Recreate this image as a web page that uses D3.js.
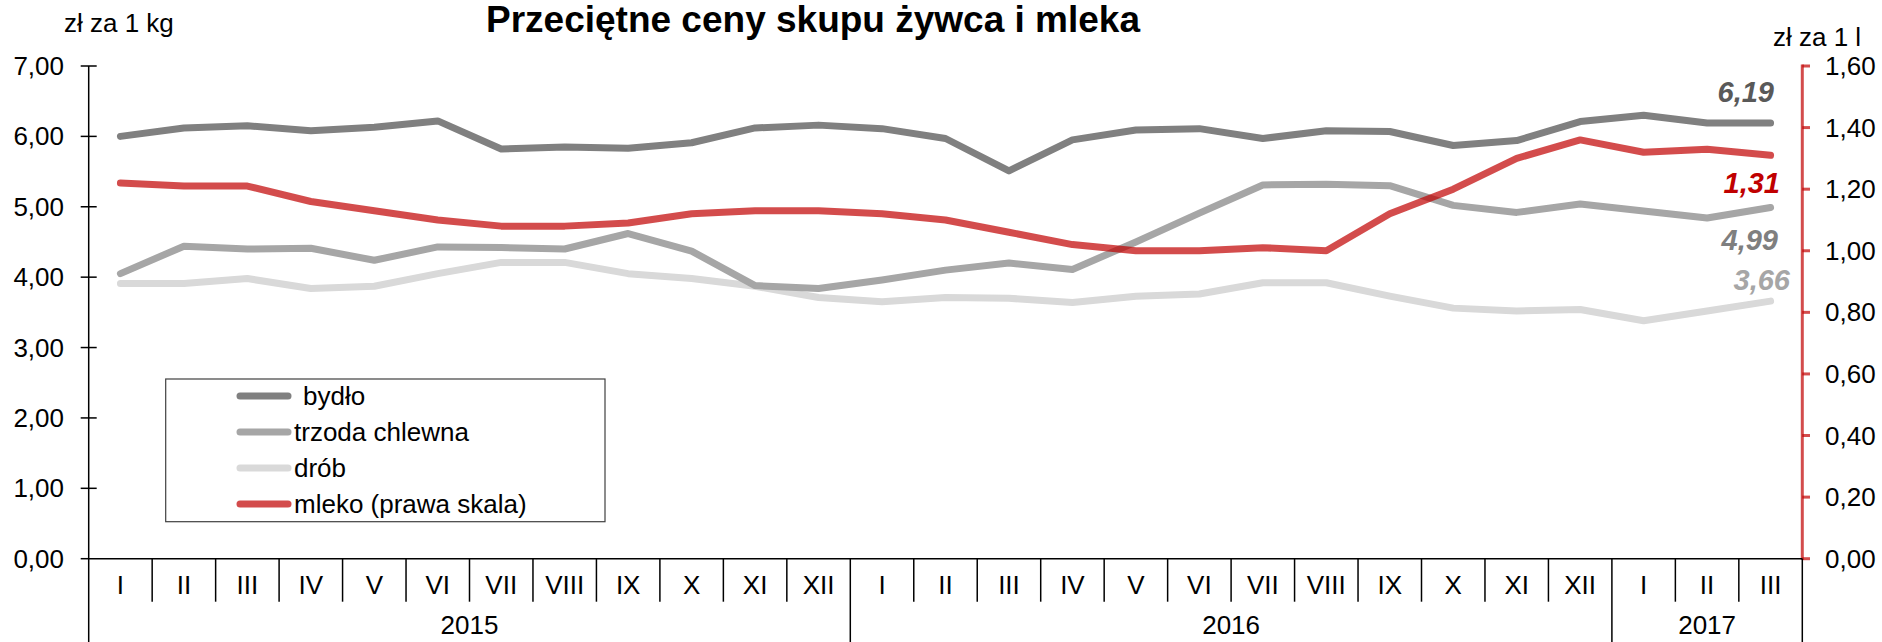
<!DOCTYPE html>
<html>
<head>
<meta charset="utf-8">
<script src="https://cdn.jsdelivr.net/npm/d3@7"></script>
<style>
body { margin: 0; background: #fff; }
text { font-family: "Liberation Sans", Arial, sans-serif; }
</style>
</head>
<body>
<script>
var w = 1882, h = 642;

// dane
var months = ["I","II","III","IV","V","VI","VII","VIII","IX","X","XI","XII",
              "I","II","III","IV","V","VI","VII","VIII","IX","X","XI","XII",
              "I","II","III"];
var years = [{label: "2015", from: 0, to: 12}, {label: "2016", from: 12, to: 24}, {label: "2017", from: 24, to: 27}];
var bydlo  = [6.00,6.12,6.15,6.08,6.13,6.22,5.82,5.85,5.83,5.91,6.12,6.16,
              6.11,5.97,5.51,5.95,6.09,6.11,5.97,6.08,6.07,5.87,5.94,6.21,6.30,6.19,6.19];
var trzoda = [4.05,4.44,4.40,4.41,4.24,4.43,4.42,4.40,4.62,4.37,3.88,3.84,
              3.96,4.10,4.20,4.11,4.50,4.91,5.31,5.32,5.30,5.02,4.92,5.04,4.94,4.84,4.99];
var drob   = [3.91,3.91,3.98,3.84,3.87,4.05,4.21,4.21,4.05,3.98,3.87,3.71,
              3.65,3.71,3.70,3.64,3.73,3.76,3.92,3.92,3.73,3.56,3.52,3.54,3.38,3.52,3.66];
var mleko  = [1.22,1.21,1.21,1.16,1.13,1.10,1.08,1.08,1.09,1.12,1.13,1.13,
              1.12,1.10,1.06,1.02,1.00,1.00,1.01,1.00,1.12,1.20,1.30,1.36,1.32,1.33,1.31];
var seriesNames = ["bydło", "trzoda chlewna", "drób", "mleko (prawa skala)"];
var leftTicks = [0,1,2,3,4,5,6,7];
var rightTicks = [0,0.2,0.4,0.6,0.8,1.0,1.2,1.4,1.6];

var fmt = function(v){ return d3.format(".2f")(v).replace(".", ","); };
var red = "rgba(192,0,0,0.7)";

var svg = d3.select("body").append("svg")
	.attr("width", w)
	.attr("height", h);

var x = d3.scaleBand().domain(d3.range(months.length)).range([88.7, 1802.3]).paddingInner(0).paddingOuter(0);
var bw = x.bandwidth();
var cx = function(i){ return x(i) + bw/2; };
var yL = d3.scaleLinear().domain([0,7]).range([558.7, 66]);
var yR = d3.scaleLinear().domain([0,1.6]).range([558.7, 66]);

// tytul
svg.append("text")
	.attr("x", 813).attr("y", 32)
	.attr("text-anchor", "middle")
	.style("font-size", "37px").style("font-weight", "bold")
	.text("Przeciętne ceny skupu żywca i mleka");

svg.append("text").attr("x", 64).attr("y", 32)
	.style("font-size", "26px").text("zł za 1 kg");
svg.append("text").attr("x", 1773).attr("y", 46)
	.style("font-size", "26px").text("zł za 1 l");

// os lewa
var gL = svg.append("g");
gL.append("line").attr("x1", 88.7).attr("x2", 88.7).attr("y1", 66).attr("y2", h)
	.attr("stroke", "#000").attr("stroke-width", 1.5);
gL.selectAll("line.t").data(leftTicks).enter().append("line").attr("class","t")
	.attr("x1", 80.7).attr("x2", function(d){ return d === 0 ? 88.7 : 96.7; })
	.attr("y1", yL).attr("y2", yL)
	.attr("stroke", "#000").attr("stroke-width", 1.5);
gL.selectAll("text").data(leftTicks).enter().append("text")
	.attr("x", 64).attr("y", yL).attr("dy", "0.35em")
	.attr("text-anchor", "end").style("font-size", "26px")
	.text(fmt);

// os prawa
var gR = svg.append("g");
gR.append("line").attr("x1", 1802.3).attr("x2", 1802.3).attr("y1", 64.5).attr("y2", 560)
	.attr("stroke", red).attr("stroke-width", 3);
gR.selectAll("line.t").data(rightTicks).enter().append("line").attr("class","t")
	.attr("x1", 1802.3).attr("x2", 1810).attr("y1", yR).attr("y2", yR)
	.attr("stroke", red).attr("stroke-width", 3);
gR.selectAll("text").data(rightTicks).enter().append("text")
	.attr("x", 1825).attr("y", yR).attr("dy", "0.35em")
	.style("font-size", "26px")
	.text(fmt);
svg.append("line").attr("x1", 1802.3).attr("x2", 1802.3).attr("y1", 558.7).attr("y2", h)
	.attr("stroke", "#000").attr("stroke-width", 1.5);

// os x
var gX = svg.append("g");
gX.append("line").attr("x1", 88.7).attr("x2", 1802.3).attr("y1", 558.7).attr("y2", 558.7)
	.attr("stroke", "#000").attr("stroke-width", 1.5);
gX.selectAll("line.m").data(d3.range(1, months.length)).enter().append("line").attr("class","m")
	.attr("x1", x).attr("x2", x)
	.attr("y1", 558.7)
	.attr("y2", function(i){ return (i % 12 === 0) ? h : 601.7; })
	.attr("stroke", "#000").attr("stroke-width", 1.5);
gX.selectAll("text.m").data(months).enter().append("text").attr("class","m")
	.attr("x", function(d,i){ return cx(i); }).attr("y", 594)
	.attr("text-anchor", "middle").style("font-size", "26px")
	.text(function(d){ return d; });
gX.selectAll("text.y").data(years).enter().append("text").attr("class","y")
	.attr("x", function(d){ return (x(d.from) + x(d.to - 1) + bw) / 2; }).attr("y", 634)
	.attr("text-anchor", "middle").style("font-size", "26px")
	.text(function(d){ return d.label; });

// linie
var lineL = d3.line().x(function(d,i){ return cx(i); }).y(function(d){ return yL(d); });
var lineR = d3.line().x(function(d,i){ return cx(i); }).y(function(d){ return yR(d); });

var series = [
	{name: seriesNames[0], data: bydlo, color: "#808080", line: lineL},
	{name: seriesNames[1], data: trzoda, color: "#a6a6a6", line: lineL},
	{name: seriesNames[2], data: drob, color: "#d9d9d9", line: lineL},
	{name: seriesNames[3], data: mleko, color: red, line: lineR}
];

svg.selectAll("path.s").data([series[2], series[1], series[0], series[3]]).enter().append("path")
	.attr("class", "s")
	.attr("d", function(s){ return s.line(s.data); })
	.attr("fill", "none")
	.attr("stroke", function(s){ return s.color; })
	.attr("stroke-width", 7)
	.attr("stroke-linejoin", "round")
	.attr("stroke-linecap", "round");

// etykiety koncowe
var last = months.length - 1;
var endLabels = [
	{txt: fmt(bydlo[last]), color: "#595959", x: 1774, y: 102},
	{txt: fmt(mleko[last]), color: "#c00000", x: 1780, y: 193},
	{txt: fmt(trzoda[last]), color: "#7f7f7f", x: 1778, y: 250},
	{txt: fmt(drob[last]), color: "#a6a6a6", x: 1790, y: 290}
];
svg.selectAll("text.end").data(endLabels).enter().append("text").attr("class","end")
	.attr("x", function(d){ return d.x; }).attr("y", function(d){ return d.y; })
	.attr("text-anchor", "end")
	.style("font-size", "29px").style("font-weight", "bold").style("font-style", "italic")
	.attr("fill", function(d){ return d.color; })
	.text(function(d){ return d.txt; });

// legenda
var legend = svg.append("g");
legend.append("rect").attr("x", 165.7).attr("y", 379).attr("width", 439.3).attr("height", 142.7)
	.attr("fill", "#fff").attr("stroke", "#404040").attr("stroke-width", 1.2);
var leg = legend.selectAll("g.item").data(series).enter().append("g").attr("class","item")
	.attr("transform", function(d,i){ return "translate(0," + (396 + i*36) + ")"; });
leg.append("line").attr("x1", 240).attr("x2", 288).attr("y1", 0).attr("y2", 0)
	.attr("stroke", function(d){ return d.color; }).attr("stroke-width", 7)
	.attr("stroke-linecap", "round");
leg.append("text").attr("x", function(d,i){ return i === 0 ? 303 : 294; }).attr("y", 0).attr("dy", "0.35em")
	.style("font-size", "26px")
	.text(function(d){ return d.name; });
</script>
</body>
</html>
